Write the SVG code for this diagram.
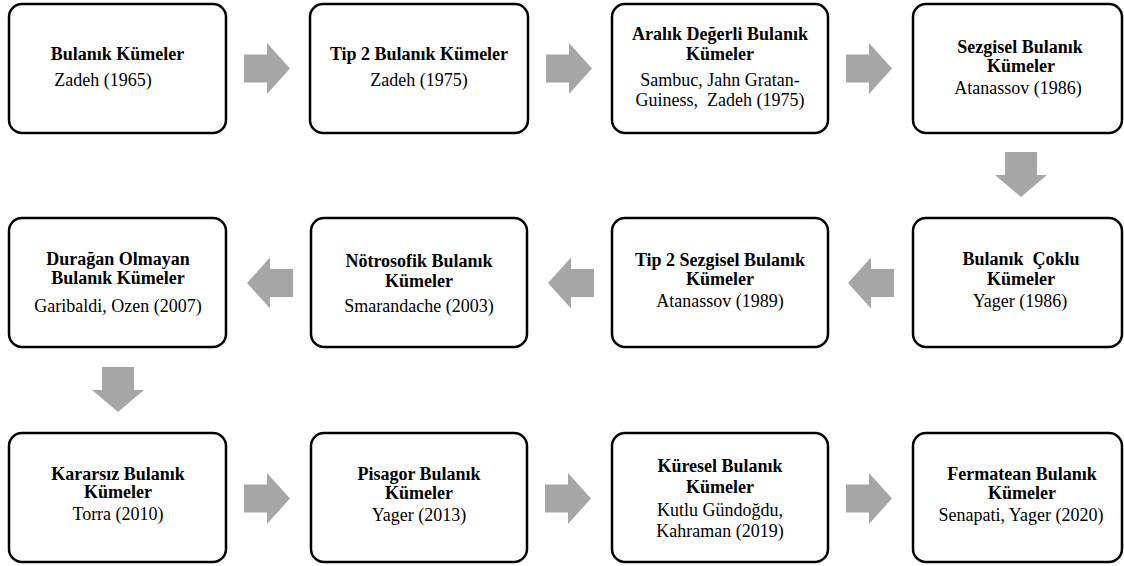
<svg xmlns="http://www.w3.org/2000/svg" width="1124" height="566" viewBox="0 0 1124 566">
<style>
.box{fill:#fff;stroke:#000;stroke-width:2.5}
.t{font-family:'Liberation Serif',Tinos,'Times New Roman','DejaVu Serif',serif;font-size:18px;font-weight:bold;text-anchor:middle;fill:#000}
.a{font-family:'Liberation Serif',Tinos,'Times New Roman','DejaVu Serif',serif;font-size:18px;text-anchor:middle;fill:#000}
.arr{fill:#a6a6a6}
</style>
<rect width="1124" height="566" fill="#fff"/>
<defs>
<path id="ar" class="arr" d="M0,-14 L23,-14 L23,-25.5 L46,0 L23,25.5 L23,14 L0,14 Z"/>
<path id="al" class="arr" d="M0,-14 L-23,-14 L-23,-25.5 L-46,0 L-23,25.5 L-23,14 L0,14 Z"/>
<path id="ad" class="arr" d="M-16,0 L16,0 L16,23 L26,23 L0,45 L-26,23 L-16,23 Z"/>
</defs>
<g id="connectors">
<use href="#ar" x="244" y="68.5"/>
<use href="#ar" x="546" y="68.5"/>
<use href="#ar" x="846" y="68.5"/>
<use href="#ad" x="1021" y="152"/>
<use href="#al" x="894" y="283"/>
<use href="#al" x="594" y="283"/>
<use href="#al" x="293" y="283"/>
<use href="#ad" x="118" y="367"/>
<use href="#ar" x="244" y="498.5"/>
<use href="#ar" x="545" y="498.5"/>
<use href="#ar" x="846" y="498.5"/>
</g>
<g id="n1"><rect class="box" x="9" y="4" width="217" height="129" rx="13"/>
<text class="t" x="117.5" y="60">Bulanık Kümeler</text><text class="a" x="103" y="86">Zadeh (1965)</text></g>
<g id="n2"><rect class="box" x="310" y="4" width="218" height="129" rx="13"/>
<text class="t" x="419" y="60">Tip 2 Bulanık Kümeler</text><text class="a" x="419" y="86">Zadeh (1975)</text></g>
<g id="n3"><rect class="box" x="612" y="4" width="216" height="129" rx="13"/>
<text class="t" x="720" y="40">Aralık Değerli Bulanık</text><text class="t" x="720" y="60">Kümeler</text>
<text class="a" x="720" y="86">Sambuc, Jahn Gratan-</text><text class="a" x="720" y="106" xml:space="preserve">Guiness,  Zadeh (1975)</text></g>
<g id="n4"><rect class="box" x="913" y="4" width="209" height="129" rx="13"/>
<text class="t" x="1020" y="53">Sezgisel Bulanık</text><text class="t" x="1021" y="72">Kümeler</text>
<text class="a" x="1018" y="94">Atanassov (1986)</text></g>
<g id="n5"><rect class="box" x="913" y="218" width="209" height="129" rx="13"/>
<text class="t" x="1021" y="265" xml:space="preserve">Bulanık  Çoklu</text><text class="t" x="1021" y="285">Kümeler</text>
<text class="a" x="1020" y="307">Yager (1986)</text></g>
<g id="n6"><rect class="box" x="9" y="218" width="217" height="129" rx="13"/>
<text class="t" x="118" y="265">Durağan Olmayan</text><text class="t" x="118" y="284">Bulanık Kümeler</text>
<text class="a" x="118" y="312">Garibaldi, Ozen (2007)</text></g>
<g id="n7"><rect class="box" x="311" y="218" width="216" height="129" rx="13"/>
<text class="t" x="419" y="267">Nötrosofik Bulanık</text><text class="t" x="419" y="287">Kümeler</text>
<text class="a" x="419" y="312">Smarandache (2003)</text></g>
<g id="n8"><rect class="box" x="612" y="218" width="216" height="129" rx="13"/>
<text class="t" x="720" y="266">Tip 2 Sezgisel Bulanık</text><text class="t" x="720" y="285">Kümeler</text>
<text class="a" x="720" y="307">Atanassov (1989)</text></g>
<g id="n9"><rect class="box" x="9" y="433" width="217" height="129" rx="13"/>
<text class="t" x="118" y="480">Kararsız Bulanık</text><text class="t" x="118" y="498">Kümeler</text>
<text class="a" x="118" y="520">Torra (2010)</text></g>
<g id="n10"><rect class="box" x="311" y="433" width="216" height="129" rx="13"/>
<text class="t" x="419" y="480">Pisagor Bulanık</text><text class="t" x="419" y="499">Kümeler</text>
<text class="a" x="419" y="521">Yager (2013)</text></g>
<g id="n11"><rect class="box" x="612" y="433" width="216" height="129" rx="13"/>
<text class="t" x="720" y="472">Küresel Bulanık</text><text class="t" x="720" y="493">Kümeler</text>
<text class="a" x="720" y="516">Kutlu Gündoğdu,</text><text class="a" x="720" y="537">Kahraman (2019)</text></g>
<g id="n12"><rect class="box" x="913" y="433" width="209" height="129" rx="13"/>
<text class="t" x="1022" y="480">Fermatean Bulanık</text><text class="t" x="1022" y="499">Kümeler</text>
<text class="a" x="1021" y="521">Senapati, Yager (2020)</text></g>
</svg>
